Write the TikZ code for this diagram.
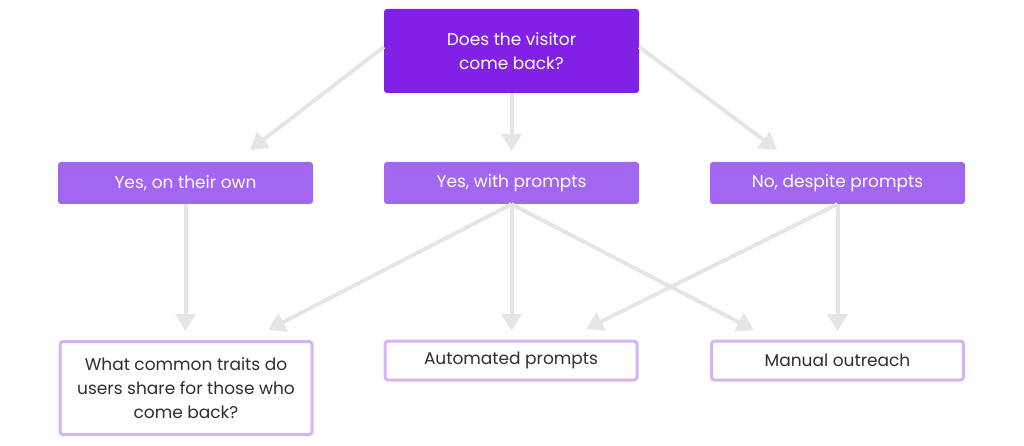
\documentclass[tikz,border=0pt]{standalone}
\usepackage{fontspec}
\setmainfont{Poppins}
\usetikzlibrary{arrows.meta}
\definecolor{topc}{HTML}{8121E6}
\definecolor{midc}{HTML}{A366F0}
\definecolor{botc}{HTML}{D6B3F7}
\definecolor{arrc}{HTML}{E5E5E5}
\definecolor{txtc}{HTML}{2E2E33}
\tikzset{
  topbox/.style={fill=topc, rounded corners=3pt, minimum width=255pt, minimum height=84pt, text=white, align=center, font=\fontsize{17}{23.5}\selectfont, inner sep=0pt},
  midbox/.style={fill=midc, rounded corners=3pt, minimum width=255pt, minimum height=42pt, text=white, align=center, font=\fontsize{17}{23.5}\selectfont, inner sep=0pt},
  botbox/.style={draw=botc, line width=3pt, fill=white, rounded corners=3pt, minimum width=252pt, minimum height=39pt, text=txtc, align=center, font=\fontsize{17}{24}\selectfont, inner sep=0pt},
  conn/.style={draw=arrc, line width=4pt, -{Triangle[width=20pt,length=17pt]}}
}
\begin{document}
\begin{tikzpicture}[x=1pt,y=-1pt]
\useasboundingbox (0,0) rectangle (1024,446);
% nodes
\node[topbox] (top) at (511.5,51) {Does the visitor\\come back?};
\node[midbox] (m1) at (185.5,183) {Yes, on their own};
\node[midbox] (m2) at (511.5,183) {Yes, with prompts};
\node[midbox] (m3) at (837.5,183) {No, despite prompts};
\node[botbox, minimum height=93pt] (b1) at (186,388) {What common traits do\\users share for those who\\come back?};
\node[botbox] (b2) at (511,360.5) {Automated prompts};
\node[botbox] (b3) at (837.5,360.5) {Manual outreach};
% arrow tips
\coordinate (t1) at (250,150);
\coordinate (t2) at (511.5,151);
\coordinate (t3) at (777,150);
\coordinate (t4) at (185.5,331);
\coordinate (t5) at (268,330);
\coordinate (t6) at (511.5,331);
\coordinate (t7) at (754,330);
\coordinate (t8) at (586,329);
\coordinate (t9) at (837.5,331);
\draw[conn] ([yshift=4pt]top.west) -- (t1);
\draw[conn] (top.south) -- (t2);
\draw[conn] ([yshift=4pt]top.east) -- (t3);
\draw[conn] (m1.south) -- (t4);
\draw[conn] (m2.south) -- (t5);
\draw[conn] (m2.south) -- (t6);
\draw[conn] (m2.south) -- (t7);
\draw[conn] (m3.south) -- (t8);
\draw[conn] (m3.south) -- (t9);
\end{tikzpicture}
\end{document}
